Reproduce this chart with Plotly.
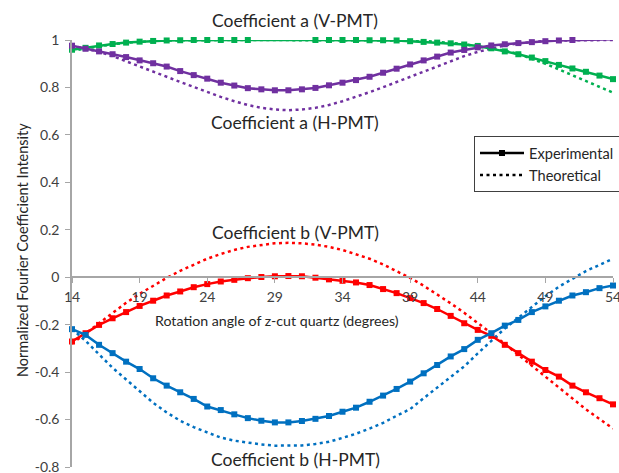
import plotly.graph_objects as go

angles = list(range(14, 55))

a_v_exp = [0.959, 0.967, 0.977, 0.983, 0.989, 0.993, 0.996, 0.998, 0.999, 1.000,
           1.000, 1.000, 1.000, 1.000, 1.001, 1.001, 1.001, 1.001, 1.000, 1.000,
           1.000, 1.000, 0.999, 0.999, 0.998, 0.995, 0.992, 0.989, 0.986, 0.981,
           0.975, 0.965, 0.952, 0.940, 0.926, 0.911, 0.895, 0.880, 0.866, 0.850,
           0.835]
a_v_th = [0.955, 0.965, 0.974, 0.982, 0.988, 0.993, 0.996, 0.998, 0.999, 1.000,
          1.000, 1.000, 1.000, 1.000, 1.000, 1.000, 1.000, 1.000, 1.000, 1.000,
          1.000, 1.000, 1.000, 1.000, 0.999, 0.998, 0.996, 0.993, 0.988, 0.982,
          0.974, 0.965, 0.955, 0.941, 0.922, 0.900, 0.876, 0.852, 0.828, 0.803,
          0.778]
a_h_exp = [0.976, 0.963, 0.952, 0.940, 0.928, 0.914, 0.902, 0.888, 0.869, 0.852,
           0.837, 0.820, 0.808, 0.797, 0.792, 0.788, 0.788, 0.792, 0.798, 0.809,
           0.820, 0.831, 0.845, 0.862, 0.879, 0.897, 0.914, 0.930, 0.947, 0.958,
           0.969, 0.977, 0.982, 0.987, 0.991, 0.995, 0.998, 1.000, 1.001, 1.002,
           1.003]
a_h_th = [0.977, 0.965, 0.950, 0.932, 0.911, 0.889, 0.867, 0.845, 0.823, 0.801,
          0.780, 0.760, 0.742, 0.726, 0.714, 0.707, 0.704, 0.707, 0.714, 0.726,
          0.742, 0.760, 0.780, 0.801, 0.823, 0.845, 0.867, 0.889, 0.911, 0.932,
          0.950, 0.965, 0.977, 0.986, 0.992, 0.996, 0.998, 0.999, 1.000, 1.000,
          1.000]
b_v_exp = [-0.271, -0.236, -0.201, -0.173, -0.147, -0.121, -0.099, -0.077, -0.060, -0.042,
           -0.029, -0.018, -0.011, -0.004, 0.001, 0.004, 0.005, 0.004, -0.002, -0.009,
           -0.015, -0.022, -0.033, -0.050, -0.067, -0.088, -0.109, -0.134, -0.163, -0.194,
           -0.222, -0.247, -0.285, -0.320, -0.356, -0.391, -0.419, -0.457, -0.485, -0.510,
           -0.536]
b_v_th = [-0.280, -0.236, -0.192, -0.150, -0.108, -0.070, -0.035, -0.003, 0.027, 0.054,
          0.078, 0.098, 0.115, 0.128, 0.137, 0.143, 0.145, 0.143, 0.137, 0.128,
          0.115, 0.098, 0.078, 0.054, 0.027, -0.003, -0.036, -0.072, -0.110, -0.150,
          -0.192, -0.236, -0.281, -0.327, -0.374, -0.421, -0.468, -0.513, -0.557, -0.598,
          -0.638]
b_h_exp = [-0.219, -0.243, -0.285, -0.320, -0.356, -0.387, -0.426, -0.457, -0.485, -0.513,
           -0.545, -0.560, -0.578, -0.594, -0.605, -0.612, -0.612, -0.606, -0.597, -0.585,
           -0.567, -0.550, -0.525, -0.499, -0.471, -0.440, -0.405, -0.370, -0.334, -0.303,
           -0.264, -0.236, -0.204, -0.180, -0.147, -0.123, -0.099, -0.077, -0.063, -0.046,
           -0.035]
b_h_th = [-0.218, -0.268, -0.325, -0.382, -0.431, -0.480, -0.529, -0.570, -0.605, -0.632,
          -0.655, -0.676, -0.689, -0.698, -0.705, -0.710, -0.711, -0.709, -0.703, -0.694,
          -0.677, -0.660, -0.638, -0.614, -0.584, -0.556, -0.510, -0.465, -0.422, -0.376,
          -0.321, -0.267, -0.216, -0.171, -0.124, -0.080, -0.040, -0.007, 0.026, 0.052,
          0.078]

x_ticks = [14, 19, 24, 29, 34, 39, 44, 49, 54]
x_tick_labels = ["14", "19", "24", "29", "34", "39", "44", "49", "54"]
y_ticks = [-0.8, -0.6, -0.4, -0.2, 0, 0.2, 0.4, 0.6, 0.8, 1]
y_tick_labels = ["-0.8", "-0.6", "-0.4", "-0.2", "0", "0.2", "0.4", "0.6", "0.8", "1"]

FONT = "Lato"
GREEN, PURPLE, RED, BLUE = "#00B050", "#7030A0", "#FF0000", "#0070C0"
DOT = "3px,3.5px"

series = [
    (a_v_th, a_v_exp, GREEN),
    (a_h_th, a_h_exp, PURPLE),
    (b_v_th, b_v_exp, RED),
    (b_h_th, b_h_exp, BLUE),
]

fig = go.Figure()
for th, ex, col in series:
    fig.add_trace(go.Scatter(x=angles, y=th, mode="lines", showlegend=False,
                             line=dict(color=col, width=2.5, dash=DOT),
                             cliponaxis=False, hoverinfo="skip"))
for th, ex, col in series:
    fig.add_trace(go.Scatter(x=angles, y=ex, mode="lines+markers", showlegend=False,
                             line=dict(color=col, width=2.5),
                             marker=dict(symbol="square", size=6, color=col),
                             cliponaxis=False, hoverinfo="skip"))

# legend entries (black)
fig.add_trace(go.Scatter(x=[None], y=[None], mode="lines+markers", name="Experimental",
                         line=dict(color="black", width=2.5),
                         marker=dict(symbol="square", size=6, color="black")))
fig.add_trace(go.Scatter(x=[None], y=[None], mode="lines", name="Theoretical",
                         line=dict(color="black", width=2.5, dash=DOT)))

L, R, T, B = 72, 6, 40, 6
W, H = 619, 473
pw, ph = W - L - R, H - T - B


def px(x):
    return (x - L) / pw


def py(y):
    return 1 - (y - T) / ph


ann_font = dict(family=FONT, size=17.5, color="#262626")
annotations = [
    dict(text="Coefficient a (V-PMT)", x=px(295), y=py(21)),
    dict(text="Coefficient a (H-PMT)", x=px(295), y=py(122)),
    dict(text="Coefficient b (V-PMT)", x=px(295), y=py(232)),
    dict(text="Coefficient b (H-PMT)", x=px(295), y=py(459)),
]
for a in annotations:
    a.update(xref="paper", yref="paper", showarrow=False, font=ann_font,
             xanchor="center", yanchor="middle")
annotations.append(dict(text="Rotation angle of z-cut quartz (degrees)",
                        x=px(277), y=py(320), xref="paper", yref="paper",
                        showarrow=False, xanchor="center", yanchor="middle",
                        font=dict(family=FONT, size=14.2, color="#262626")))
annotations.append(dict(text="Normalized Fourier Coefficient Intensity",
                        x=px(22), y=py(250), xref="paper", yref="paper",
                        showarrow=False, xanchor="center", yanchor="middle",
                        textangle=-90,
                        font=dict(family=FONT, size=14.5, color="#262626")))

ymin, ymax = -0.8, 1.0
fig.update_layout(
    width=W, height=H,
    margin=dict(l=L, r=R, t=T, b=B, autoexpand=False),
    paper_bgcolor="white", plot_bgcolor="white",
    font=dict(family=FONT, size=13, color="#404040"),
    annotations=annotations,
    hovermode=False,
    legend=dict(xref="container", yref="container",
                x=474 / W, y=1 - 164 / H, xanchor="left", yanchor="middle",
                bordercolor="#404040", borderwidth=1, bgcolor="white",
                font=dict(family=FONT, size=14.6, color="#262626"),
                itemwidth=44, tracegroupgap=0),
    xaxis=dict(range=[14, 54], tickvals=x_ticks, ticktext=x_tick_labels,
               showgrid=False, zeroline=False, showline=True, linecolor="#A6A6A6",
               linewidth=1.5, ticks="outside", ticklen=5, tickcolor="#A6A6A6",
               anchor="free", position=(0 - ymin) / (ymax - ymin),
               ticklabelstandoff=2, ticklabeloverflow="allow", automargin=False,
               tickfont=dict(family=FONT, size=14, color="#404040")),
    yaxis=dict(range=[ymin, ymax], tickvals=y_ticks, ticktext=y_tick_labels,
               showgrid=False, zeroline=False, showline=True, linecolor="#A6A6A6",
               linewidth=1.5, ticks="outside", ticklen=5, tickcolor="#A6A6A6",
               ticklabelstandoff=3, ticklabeloverflow="allow", automargin=False,
               tickfont=dict(family=FONT, size=14, color="#404040")),
)

fig.write_html("out.html", config={"displayModeBar": False},
               post_script="document.body.style.margin='0';document.body.style.padding='0';")
